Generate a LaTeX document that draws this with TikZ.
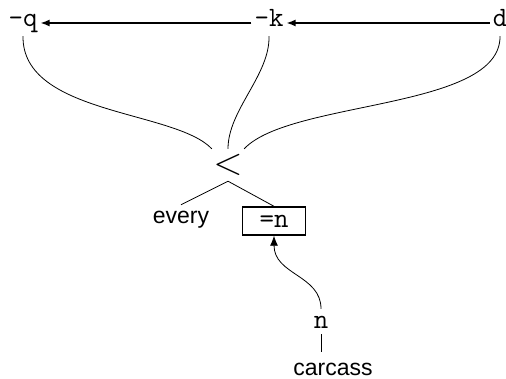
\documentclass[tikz,border=0pt]{standalone}
\usepackage{fontspec}
\usepackage{fix-cm}
\newfontfamily\sansf{Liberation Sans}
\usetikzlibrary{arrows.meta}
\tikzset{
  mono/.style={font=\ttfamily\fontsize{28}{28}\selectfont, inner xsep=3pt, inner ysep=0pt},
  topnode/.style={mono, anchor=base, text height=17pt, text depth=9pt},
  sanstext/.style={font=\sansf\fontsize{23}{23}\selectfont, inner sep=1pt, anchor=base},
  chain/.style={line width=1.4pt, -{Latex[length=9pt,width=7pt]}},
  thin/.style={line width=0.8pt},
  boxed/.style={mono, draw, line width=1.4pt, minimum width=63pt, minimum height=28pt, inner sep=0pt}
}
\begin{document}
\begin{tikzpicture}[x=1pt,y=-1pt]
\useasboundingbox (0,0) rectangle (506,379);
% top row
\node[topnode] (q) at (23,27) {-q};
\node[topnode] (k) at (269,27) {-k};
\node[topnode] (d) at (500,27) {d};
% chevron
\node[inner sep=0pt, minimum width=32pt, minimum height=32pt] (lt) at (228,165) {\scalebox{1.6}{\fontsize{24}{24}\selectfont$<$}};
% lower nodes
\node[sanstext, text height=18pt, text depth=5pt] (every) at (181,224) {every};
\node[boxed] (box) at (274,221) {=n};
\node[mono, anchor=base, text height=17pt, text depth=4pt, inner ysep=2pt] (n) at (321,328) {n};
\node[sanstext, text height=22pt, text depth=0pt] (carcass) at (333,375) {carcass};
% chain arrows
\draw[chain] (d.west) -- (k.east);
\draw[chain] (k.west) -- (q.east);
% curves into chevron
\draw[thin] (q.south) .. controls (22,115) and (175,110) .. (lt.north west);
\draw[thin] (k.south) .. controls (270,75) and (228,110) .. (lt.north);
\draw[thin] (d.south) .. controls (501,110) and (290,100) .. (lt.north east);
% tree
\draw[thin] (lt.south) -- (every.north);
\draw[thin] (lt.south) -- (box.north);
% n to box
\draw[thin, -{Latex[length=10pt,width=8pt]}] (n.north) .. controls (321,275) and (274,275) .. (box.south);
\draw[thin] (n.south) -- (n.south |- carcass.north);
\end{tikzpicture}
\end{document}
